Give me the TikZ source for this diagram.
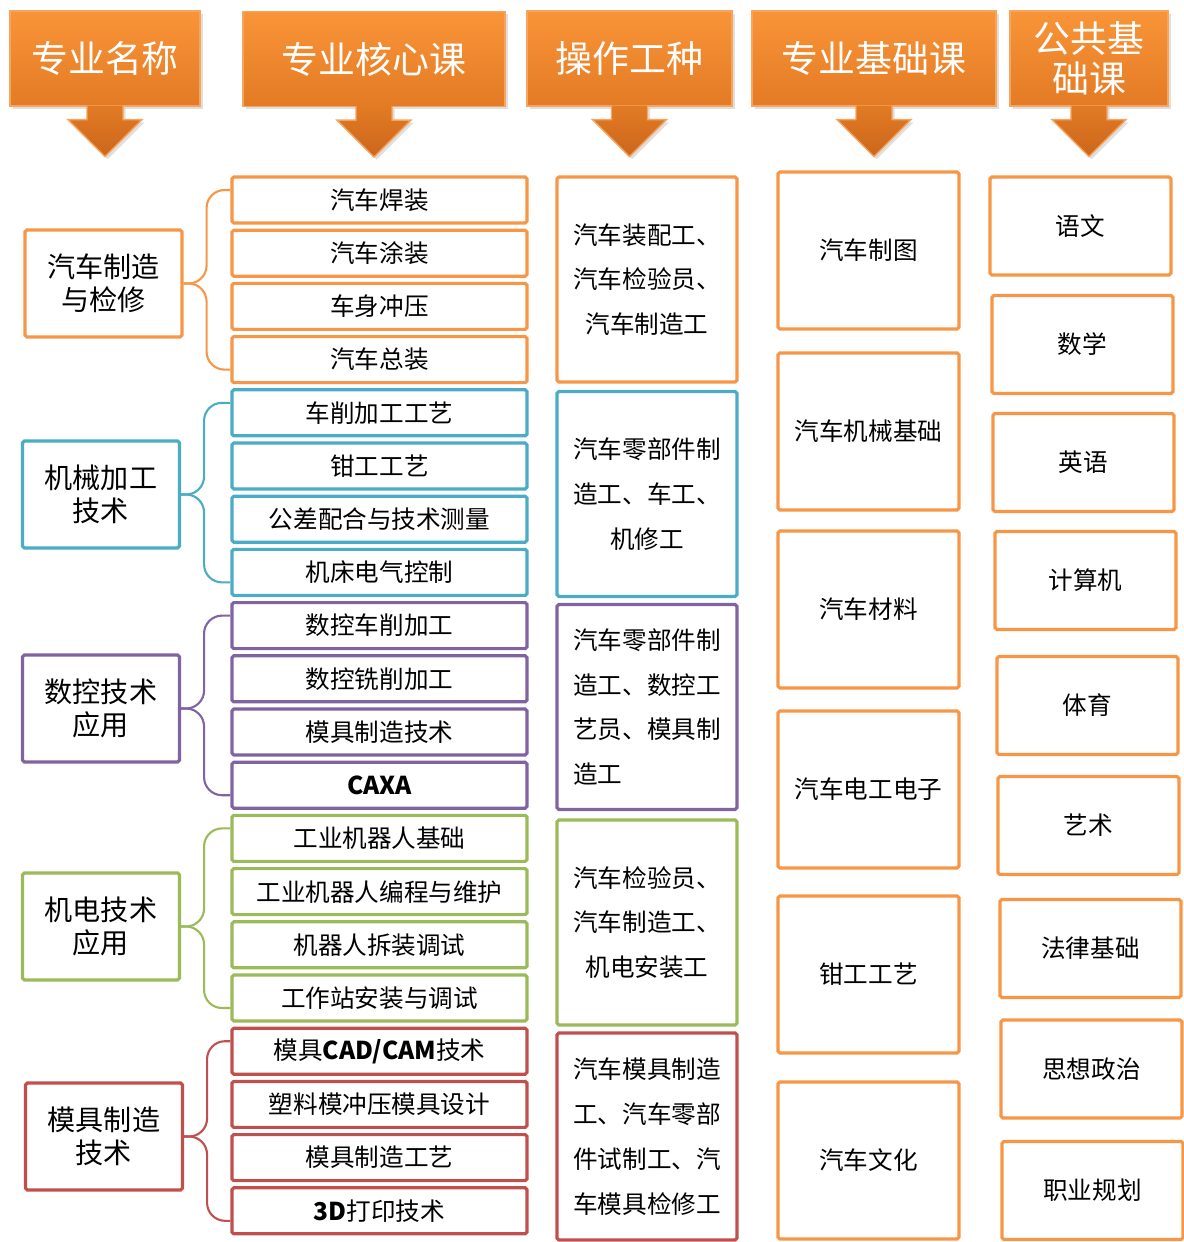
\documentclass[tikz,border=0pt]{standalone}
\usepackage{fontspec}
\newfontfamily\cjk{Noto Sans CJK SC}
\usetikzlibrary{calc,shadows}
\definecolor{cOr}{HTML}{F79646}
\definecolor{cBl}{HTML}{4BACC6}
\definecolor{cPu}{HTML}{8064A2}
\definecolor{cGr}{HTML}{9BBB59}
\definecolor{cRd}{HTML}{C0504D}
\definecolor{hdTop}{HTML}{FA9438}
\definecolor{hdMid}{HTML}{E27B24}
\definecolor{hdBot}{HTML}{CB661C}
\definecolor{hdEdge}{HTML}{F7A45E}
\tikzset{
  box/.style={draw=#1, line width=1.8pt, rounded corners=1pt, fill=white, inner sep=0pt, align=center, font=\cjk\fontsize{14}{17}\selectfont},
  core/.style={box=#1, minimum width=5.9cm, minimum height=0.92cm},
  major/.style={box=#1, minimum width=3.14cm, minimum height=2.14cm, font=\cjk\fontsize{16}{18.7}\selectfont},
  job/.style={box=#1, minimum width=3.6cm, minimum height=4.1cm, font=\cjk\fontsize{14}{25.5}\selectfont},
  base/.style={box=cOr, minimum width=3.62cm, minimum height=3.14cm},
  pub/.style={box=cOr, minimum width=3.62cm, minimum height=1.96cm},
  hdr/.style={draw=hdEdge, line width=0.8pt, top color=hdTop, bottom color=hdMid, text=white, inner sep=0pt, align=center, minimum height=1.9cm, drop shadow={opacity=0.25, shadow xshift=1.5pt, shadow yshift=-1.5pt}, font=\cjk\fontsize{21}{22.7}\selectfont},
  hdarrow/.style={draw=hdEdge, line width=0.8pt, top color=hdMid, bottom color=hdBot, drop shadow={opacity=0.25, shadow xshift=1.5pt, shadow yshift=-1.5pt}},
  brc/.style={line width=1.2pt, rounded corners=0.36cm},
}
\begin{document}
\begin{tikzpicture}[x=0.02cm, y=-0.02cm]
    \useasboundingbox (0,0) rectangle (1184,1242);
    \node at (105,58.5)[hdr, minimum width=3.8cm] (h1) {专业名称};
    \node at (374,59)[hdr, minimum width=5.24cm] (h2) {专业核心课};
    \node at (629.5,58.5)[hdr, minimum width=4.1cm] (h3) {操作工种};
    \node at (874,58.5)[hdr, minimum width=4.88cm] (h4) {专业基础课};
    \node at (1089,58.5)[hdr, minimum width=3.16cm] (h5) {公共基\\础课};
    \foreach \h in {1,...,5}
        \path[hdarrow] ($(h\h.south)+(-18,-1)$) -- ++(0,14) -- ++(-19,0) -- ++(37,37) -- ++(37,-37) -- ++(-19,0) -- ++(0,-14);
    \foreach \t/\c [count=\i] in {汽车焊装/cOr, 汽车涂装/cOr, 车身冲压/cOr, 汽车总装/cOr,
        车削加工工艺/cBl, 钳工工艺/cBl, 公差配合与技术测量/cBl, 机床电气控制/cBl,
        数控车削加工/cPu, 数控铣削加工/cPu, 模具制造技术/cPu, {\bfseries CAXA}/cPu,
        工业机器人基础/cGr, 工业机器人编程与维护/cGr, 机器人拆装调试/cGr, 工作站安装与调试/cGr,
        {模具\textbf{CAD/CAM}技术}/cRd, 塑料模冲压模具设计/cRd, 模具制造工艺/cRd, {\textbf{3D}打印技术}/cRd}
        \node at (379.5,{200+53.2*(\i-1)})[core=\c] (c\i) {\t};
    \node at (103.5,283.5)[major=cOr] (m1) {汽车制造\\与检修};
    \node at (101,494.5)[major=cBl] (m2) {机械加工\\技术};
    \node at (101,708.5)[major=cPu] (m3) {数控技术\\应用};
    \node at (101,926.5)[major=cGr] (m4) {机电技术\\应用};
    \node at (104,1136.5)[major=cRd] (m5) {模具制造\\技术};
    \foreach \g/\c in {1/cOr,2/cBl,3/cPu,4/cGr,5/cRd}{
        \pgfmathtruncatemacro\first{4*\g-3}
        \pgfmathtruncatemacro\last{4*\g}
        \draw[brc,\c] ($(c\first.west)+(0,-10)$) -| ($(m\g.east)+(23,0)$) -- (m\g.east);
        \draw[brc,\c] ($(c\last.west)+(0,10)$) -| ($(m\g.east)+(23,0)$) -- (m\g.east);
    }
    \node at (647,279.5)[job=cOr] (j1) {汽车装配工、\\汽车检验员、\\汽车制造工};
    \node at (647,494)[job=cBl] (j2) {汽车零部件制\\造工、车工、\\机修工};
    \node at (647,707)[job=cPu, align=left] (j3) {汽车零部件制\\造工、数控工\\艺员、模具制\\造工};
    \node at (647,922.5)[job=cGr] (j4) {汽车检验员、\\汽车制造工、\\机电安装工};
    \node at (647,1136.5)[job=cRd, minimum height=4.14cm] (j5) {汽车模具制造\\工、汽车零部\\件试制工、汽\\车模具检修工};
    \foreach \t/\y [count=\i] in {汽车制图/250.5, 汽车机械基础/431.5, 汽车材料/609.5, 汽车电工电子/789.5, 钳工工艺/974.5, 汽车文化/1160.5}
        \node at (868.5,\y)[base] (b\i) {\t};
    \foreach \t/\x/\y [count=\i] in {语文/1080.5/226, 数学/1082.5/344.5, 英语/1083.5/462.5, 计算机/1085.5/580.5, 体育/1087.5/705.5,
        艺术/1088.5/825.5, 法律基础/1090.5/948.5, 思想政治/1091.5/1069, 职业规划/1092.5/1190.5}
        \node at (\x,\y)[pub] (p\i) {\t};
\end{tikzpicture}
\end{document}
